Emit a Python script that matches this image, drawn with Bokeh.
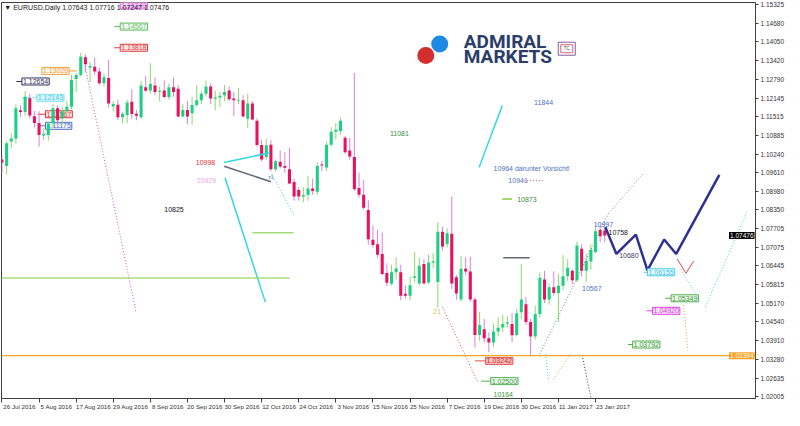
import numpy as np
from bokeh.plotting import figure
from bokeh.models import Range1d, FixedTicker, PrintfTickFormatter, Label, Span, ColumnDataSource
from bokeh.embed import file_html
from bokeh.resources import INLINE

# ---------------- data (bar index 0 = 26 Jul 2016, daily bars) ----------------
opens = [1.1006,1.0984,1.1067,1.1077,1.1173,1.1167,1.1214,1.1153,1.1130,1.1087,
         1.1089,1.1129,1.1180,1.1145,1.1170,1.1185,1.1279,1.1293,1.1353,1.1318,
         1.1321,1.1305,1.1265,1.1283,1.1186,1.1192,1.1149,1.1157,1.1202,1.1161,
         1.1149,1.1251,1.1240,1.1257,1.1236,1.1240,1.1218,1.1251,1.1246,1.1152,
         1.1174,1.1163,1.1191,1.1207,1.1229,1.1254,1.1212,1.1216,1.1224,1.1240,
         1.1213,1.1206,1.1207,1.1144,1.1196,1.1137,1.1055,1.1014,1.1056,1.0973,
         1.0998,1.0984,1.0973,1.0929,1.0902,1.0880,1.0885,1.0907,1.0896,1.0989,
         1.0979,1.1056,1.1100,1.1103,1.1080,1.1036,1.1014,1.0909,1.0886,1.0834,
         1.0733,1.0718,1.0685,1.0620,1.0584,1.0623,1.0623,1.0550,1.0543,1.0604,
         1.0585,1.0651,1.0588,1.0656,1.0590,1.0760,1.0719,1.0754,1.0606,1.0530,
         1.0635,1.0625,1.0530,1.0410,1.0429,1.0399,1.0384,1.0422,1.0435,1.0449,
         1.0447,1.0410,1.0487,1.0514,1.0454,1.0405,1.0481,1.0598,1.0530,1.0572,
         1.0552,1.0577,1.0609,1.0628,1.0596,1.0703,1.0628,1.0659,1.0692,1.0766,
         1.07643]
highs = [1.1018,1.1068,1.1095,1.1193,1.1190,1.1238,1.1229,1.1170,1.1170,1.1113,
         1.1135,1.1195,1.1190,1.1185,1.1205,1.1294,1.1298,1.1368,1.1363,1.1338,
         1.1352,1.1318,1.1298,1.1344,1.1204,1.1209,1.1169,1.1209,1.1244,1.1174,
         1.1272,1.1289,1.1333,1.1284,1.1254,1.1274,1.1264,1.1284,1.1259,1.1194,
         1.1204,1.1219,1.1259,1.1239,1.1274,1.1264,1.1239,1.1234,1.1259,1.1254,
         1.1234,1.1249,1.1224,1.1229,1.1204,1.1145,1.1073,1.1076,1.1071,1.1006,
         1.1036,1.1031,1.1046,1.0941,1.0911,1.0911,1.0951,1.0941,1.0996,1.1001,
         1.1066,1.1115,1.1130,1.1148,1.1085,1.1080,1.1300,1.0961,1.0936,1.0867,
         1.0782,1.0767,1.0757,1.0653,1.0648,1.0673,1.0648,1.0578,1.0608,1.0693,
         1.0673,1.0668,1.0683,1.0688,1.0793,1.0777,1.0772,1.0880,1.0613,1.0678,
         1.0673,1.0676,1.0538,1.0489,1.0464,1.0419,1.0449,1.0469,1.0479,1.0474,
         1.0484,1.0499,1.0652,1.0539,1.0464,1.0509,1.0623,1.0628,1.0583,1.0626,
         1.0618,1.0681,1.0668,1.0633,1.0727,1.0717,1.0687,1.0717,1.0775,1.0782,
         1.07716]
lows = [1.0961,1.0956,1.1045,1.1060,1.1150,1.1155,1.1145,1.1115,1.1049,1.1072,
        1.1070,1.1115,1.1130,1.1125,1.1155,1.1177,1.1234,1.1288,1.1303,1.1268,
        1.1293,1.1258,1.1253,1.1182,1.1169,1.1139,1.1129,1.1129,1.1144,1.1139,
        1.1144,1.1236,1.1229,1.1224,1.1204,1.1214,1.1209,1.1219,1.1149,1.1149,
        1.1125,1.1124,1.1184,1.1194,1.1219,1.1194,1.1174,1.1184,1.1204,1.1204,
        1.1154,1.1194,1.1149,1.1114,1.1139,1.1050,1.1000,1.1006,1.0966,1.0966,
        1.0976,1.0961,1.0921,1.0866,1.0866,1.0861,1.0866,1.0886,1.0886,1.0966,
        1.0966,1.1050,1.1075,1.1090,1.1025,1.1005,1.0900,1.0876,1.0836,1.0717,
        1.0707,1.0672,1.0613,1.0576,1.0578,1.0598,1.0528,1.0533,1.0528,1.0588,
        1.0578,1.0583,1.0583,1.0638,1.0503,1.0697,1.0707,1.0567,1.0529,1.0523,
        1.0613,1.0523,1.0367,1.0390,1.0385,1.0351,1.0370,1.0405,1.0420,1.0435,
        1.0385,1.0405,1.0464,1.0444,1.0340,1.0395,1.0469,1.0518,1.0513,1.0543,
        1.0454,1.0563,1.0593,1.0583,1.0588,1.0608,1.0590,1.0632,1.0687,1.0725,
        1.07247]
closes = [1.0996,1.1061,1.1077,1.1180,1.1167,1.1219,1.1155,1.1130,1.1089,1.1093,
          1.1127,1.1180,1.1139,1.1170,1.1185,1.1276,1.1293,1.1355,1.1329,1.1323,
          1.1305,1.1265,1.1285,1.1196,1.1194,1.1149,1.1161,1.1199,1.1160,1.1154,
          1.1257,1.1239,1.1262,1.1235,1.1239,1.1218,1.1251,1.1235,1.1152,1.1174,
          1.1152,1.1191,1.1207,1.1229,1.1254,1.1213,1.1216,1.1222,1.1235,1.1210,
          1.1207,1.1209,1.1152,1.1196,1.1142,1.1055,1.1006,1.1054,1.0973,1.1000,
          1.0982,1.0978,1.0924,1.0880,1.0880,1.0885,1.0907,1.0899,1.0984,1.0985,
          1.1056,1.1100,1.1107,1.1137,1.1030,1.1016,1.0905,1.0886,1.0842,1.0735,
          1.0715,1.0682,1.0617,1.0587,1.0623,1.0636,1.0543,1.0543,1.0579,1.0609,
          1.0645,1.0585,1.0656,1.0660,1.0760,1.0710,1.0755,1.0585,1.0551,1.0635,
          1.0625,1.0530,1.0410,1.0444,1.0399,1.0384,1.0422,1.0434,1.0447,1.0453,
          1.0409,1.0484,1.0530,1.0454,1.0405,1.0481,1.0604,1.0530,1.0572,1.0552,
          1.0577,1.0609,1.0638,1.0596,1.0714,1.0628,1.0661,1.0699,1.0762,1.0745,
          1.07476]

x_tick_idx = [0, 8, 16, 24, 32, 40, 48, 56, 64, 72, 80, 88, 96, 104, 112, 120, 128]
x_tick_labels = ["26 Jul 2016", "5 Aug 2016", "17 Aug 2016", "29 Aug 2016", "8 Sep 2016",
                 "20 Sep 2016", "30 Sep 2016", "12 Oct 2016", "24 Oct 2016", "3 Nov 2016",
                 "15 Nov 2016", "25 Nov 2016", "7 Dec 2016", "19 Dec 2016", "30 Dec 2016",
                 "11 Jan 2017", "23 Jan 2017"]
y_tick_values = [1.15325, 1.14680, 1.14050, 1.13420, 1.12790, 1.12145, 1.11515, 1.10885,
                 1.10240, 1.09610, 1.08980, 1.08350, 1.07705, 1.07075, 1.06445, 1.05815,
                 1.05170, 1.04540, 1.03910, 1.03280, 1.02635, 1.02005]
last_price = 1.07476
support_level = 1.03394
title_text = "\u25bc EURUSD,Daily 1.07643 1.07716 1.07247 1.07476"

# boxed price labels: text, bar index (left edge), price, text colour, fill, border, lead x0, lead x1, under candles
box_labels = [
    ("1.15240", 25.5, 1.15292, "#e060e0", "#f8d4f8", "#e060e0", None, None, False),
    ("1.14567", 25.5, 1.14572, "#6cc06c", "#f2fbf2", "#5cb85c", 24.2, 25.5, False),
    ("1.13818", 25.5, 1.13853, "#e03a3a", "#fde4e4", "#e03a3a", 24.2, 25.5, False),
    ("1.13026", 8.6, 1.13067, "#f0a040", "#fff6ea", "#f0a040", 14.5, 16.2, False),
    ("1.12654", 4.3, 1.12707, "#30305e", "#ffffff", "#30305e", 3.1, 4.3, False),
    ("1.12143", 7.5, 1.12151, "#50c4e0", "#d5f6fd", "#80e0f0", 4.3, 7.5, False),
    ("1.11567", 9.4, 1.11595, "#e03a3a", "#fde4e4", "#e03a3a", 7.7, 9.4, True),
    ("1.11175", 9.4, 1.11202, "#5070c0", "#eef3ff", "#5070c0", 7.9, 9.4, True),
    ("1.06155", 139.2, 1.06228, "#40c0e0", "#e6faff", "#40d0e8", 138.4, 139.2, False),
    ("1.05349", 144.3, 1.05345, "#3c963c", "#eefaee", "#50b050", 143.0, 144.3, False),
    ("1.04920", 140.3, 1.04919, "#d040d0", "#fbe3fb", "#e040e0", 139.0, 140.3, False),
    ("1.03792", 136.0, 1.03774, "#3c963c", "#eefaee", "#50b050", 135.0, 136.0, False),
    ("1.03242", 104.3, 1.03218, "#d02020", "#f8c4c4", "#e05050", 102.0, 104.3, False),
    ("1.02500", 105.4, 1.02531, "#3c963c", "#eefaee", "#50b050", 103.3, 105.4, False),
]

# plain annotation texts: text, bar index, price, colour, align
note_texts = [
    ("10825", 37.1, 1.08355, "#111111", "center"),
    ("10998", 43.9, 1.09959, "#e03030", "center"),
    ("10929", 44.1, 1.09337, "#e8a8e8", "center"),
    ("z1", 58.0, 1.09468, "#5070c0", "center"),
    ("11081", 85.7, 1.10940, "#3a8a3a", "center"),
    ("11844", 116.8, 1.11987, "#5070c0", "center"),
    ("10964  darunter Vorsicht!", 106.0, 1.09762, "#5070c0", "left"),
    ("10941", 109.2, 1.09337, "#5070c0", "left"),
    ("10873", 111.1, 1.08715, "#3a8a3a", "left"),
    ("21", 93.8, 1.04887, "#c8d060", "center"),
    ("10164", 108.1, 1.02072, "#3a9a3a", "center"),
    ("10997", 129.7, 1.07864, "#4060c0", "center"),
    ("10758", 132.9, 1.07570, "#202020", "center"),
    ("10680", 135.2, 1.06784, "#404060", "center"),
    ("10567", 127.2, 1.05672, "#5070c0", "center"),
]

# solid trend lines: x0, y0, x1, y1, colour, width
solid_lines = [
    (47.9, 1.09959, 57.8, 1.10286, "#30d8e8", 1.5),
    (47.9, 1.09828, 58.0, 1.09304, "#606878", 1.5),
    (48.1, 1.09435, 56.8, 1.05214, "#30d8e8", 1.5),
    (102.9, 1.09795, 107.9, 1.11889, "#30d8e8", 1.5),
    (-1.0, 1.06032, 62.05, 1.06032, "#80cc40", 1.0),
    (54.0, 1.07570, 62.9, 1.07570, "#80cc40", 1.0),
    (107.9, 1.08715, 110.0, 1.08715, "#80cc40", 1.5),
    (108.1, 1.06719, 113.8, 1.06719, "#606878", 1.5),
    (145.6, 1.06686, 147.5, 1.06195, "#e05050", 1.0),
    (147.5, 1.06195, 149.2, 1.06620, "#e05050", 1.0),
]
# dotted projection lines
dotted_lines = [
    (17.9, 1.13231, 28.9, 1.04887, "#cc55cc"),
    (58.2, 1.09566, 62.9, 1.08191, "#40c8e0"),
    (95.0, 1.05050, 102.6, 1.02498, "#d05050"),
    (112.6, 1.09337, 117.0, 1.09337, "#e05050"),
    (117.2, 1.03447, 117.9, 1.02596, "#40d0e0"),
    (118.9, 1.02596, 122.9, 1.03512, "#f0a040"),
    (125.1, 1.03414, 127.0, 1.01974, "#303060"),
    (116.0, 1.03447, 130.8, 1.08224, "#40a060"),
    (130.8, 1.08224, 138.4, 1.09599, "#50c050"),
    (146.4, 1.06326, 149.8, 1.05443, "#40d0e0"),
    (151.7, 1.05050, 160.8, 1.08322, "#40d0e0"),
    (147.0, 1.05119, 147.9, 1.03578, "#f0a040"),
]
# projected zigzag path
zigzag_idx = [130.1, 132.5, 136.7, 139.2, 142.8, 145.4, 154.7]
zigzag_price = [1.07766, 1.06850, 1.07505, 1.06294, 1.07341, 1.06850, 1.09533]

# ---------------- figure ----------------
FONT = "Liberation Sans"
X_END = 162.5
FRAME_W = 754
p = figure(frame_width=FRAME_W, frame_height=396,
           x_range=Range1d(-0.1, X_END), y_range=Range1d(1.01941, 1.15390),
           y_axis_location="right", output_backend="svg", toolbar_location=None,
           min_border_left=1, min_border_top=2, min_border_right=0, min_border_bottom=0,
           background_fill_color="white", border_fill_color="white",
           outline_line_color="#404040")
p.grid.visible = False

# bottom axis: tick marks (minor ticks) at the dates, labels just to their right
LABEL_SHIFT = 3.75
shifted = [t + LABEL_SHIFT for t in x_tick_idx]
xa = p.xaxis[0]
xa.ticker = FixedTicker(ticks=shifted, minor_ticks=x_tick_idx)
xa.major_label_overrides = {s: lab for s, lab in zip(shifted, x_tick_labels)}
xa.major_tick_out = 0
xa.major_tick_in = 0
xa.minor_tick_out = 4
xa.minor_tick_in = 0
xa.minor_tick_line_color = "#404040"
xa.axis_line_color = "#404040"
xa.major_label_standoff = 0
xa.major_label_text_font = FONT
xa.major_label_text_font_size = "6.2px"
xa.major_label_text_color = "#333333"

ya = p.yaxis[0]
ya.ticker = FixedTicker(ticks=y_tick_values)
ya.formatter = PrintfTickFormatter(format="%.5f")
ya.major_label_text_font = FONT
ya.major_label_text_font_size = "6.5px"
ya.major_label_text_color = "#333333"
ya.major_tick_out = 3
ya.major_tick_in = 0
ya.minor_tick_out = 0
ya.minor_tick_in = 0
ya.major_label_standoff = 2
ya.axis_line_color = "#404040"
ya.major_tick_line_color = "#404040"

# support line
p.add_layout(Span(location=support_level, dimension="width", line_color="#f5a623", line_width=1.2))

# boxed labels & their lead lines
lead = dict(x0=[], x1=[], y=[], c=[])
for (t, xi, yv, tc, fc, bc, lx0, lx1, under) in box_labels:
    if lx0 is not None:
        lead["x0"].append(lx0); lead["x1"].append(lx1); lead["y"].append(yv); lead["c"].append(bc)
    lab = Label(x=xi, y=yv, text=t, text_font=FONT, text_font_size="7px", text_color=tc,
                text_align="left", text_baseline="middle",
                background_fill_color=fc, border_line_color=bc, padding=1)
    if under:
        lab.level = "underlay"
    p.add_layout(lab)
p.segment(x0="x0", y0="y", x1="x1", y1="y", line_color="c", line_width=1, source=ColumnDataSource(lead))

# candles
idx = np.arange(len(closes))
o = np.array(opens); h = np.array(highs); l = np.array(lows); c = np.array(closes)
bull = c >= o
wick_col = np.where(bull, "#86dc6a", "#e07ee0")
body_col = np.where(bull, "#1bcf85", "#e8115b")
btm = np.minimum(o, c)
top = np.maximum(np.maximum(o, c), btm + 0.00022)
src = ColumnDataSource(dict(x=idx, l=l, h=h, top=top, btm=btm, left=idx - 0.33, right=idx + 0.33,
                            wc=wick_col, bc=body_col))
p.segment(x0="x", y0="l", x1="x", y1="h", line_color="wc", line_width=1, source=src)
p.quad(left="left", right="right", top="top", bottom="btm", fill_color="bc", line_color=None, source=src)

# trend lines
for (x0, y0, x1, y1, col, w) in solid_lines:
    p.line([x0, x1], [y0, y1], line_color=col, line_width=w)
for (x0, y0, x1, y1, col) in dotted_lines:
    p.line([x0, x1], [y0, y1], line_color=col, line_width=1, line_dash="1 2")

# zigzag projection
p.line(zigzag_idx, zigzag_price, line_color="#2e3192", line_width=2.5)

# notes
for (t, xi, yv, col, al) in note_texts:
    p.add_layout(Label(x=xi, y=yv, text=t, text_font=FONT,
                       text_font_size="5px" if t == "z1" else "7px",
                       text_color=col, text_align=al, text_baseline="middle"))

# title
p.add_layout(Label(x=0.5, y=1.15227, text=title_text, text_font=FONT, text_font_size="7px",
                   text_color="#202020", text_align="left", text_baseline="middle"))

# logo
p.scatter([94.4], [1.13983], size=17, color="#1e88e5", line_color=None)
p.scatter([91.4], [1.13591], size=17, color="#d32f2f", line_color=None)
p.add_layout(Label(x=99.6, y=1.14082, text="ADMIRAL", text_font="Roboto", text_font_style="bold",
                   text_font_size="19px", text_color="#2b3d6b", text_align="left", text_baseline="middle"))
p.add_layout(Label(x=99.6, y=1.13540, text="MARKETS", text_font="Roboto", text_font_style="bold",
                   text_font_size="19px", text_color="#2b3d6b", text_align="left", text_baseline="middle"))
p.rect([121.8], [1.13820], width=17, height=13, width_units="screen", height_units="screen",
       fill_color="white", line_color="#8060a0")
p.rect([121.8], [1.13820], width=12, height=8, width_units="screen", height_units="screen",
       fill_color=None, line_color="#e06070")
p.add_layout(Label(x=121.8, y=1.13820, text="TC", text_font=FONT, text_font_size="4.5px",
                   text_color="#444444", text_align="center", text_baseline="middle"))

# price boxes at the price scale (drawn at the right edge of the chart area)
p.add_layout(Label(x=X_END, y=last_price, x_offset=-1, text="1.07476", text_font=FONT,
                   text_font_size="6.5px", text_color="white", text_align="right", level="overlay",
                   text_baseline="middle", background_fill_color="black", padding=1))
p.add_layout(Label(x=X_END, y=support_level, x_offset=-1, text="1.03394", text_font=FONT,
                   text_font_size="6.5px", text_color="white", text_align="right", level="overlay",
                   text_baseline="middle", background_fill_color="#f5a020", padding=1))

open("out.html", "w").write(file_html(p, INLINE))
